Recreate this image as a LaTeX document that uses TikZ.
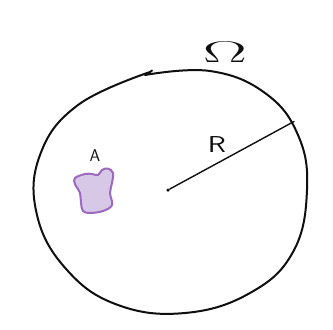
\RequirePackage{fix-cm}
\documentclass[tikz,border=0pt]{standalone}
\usepackage{graphicx}
\definecolor{blobfill}{RGB}{216,200,232}
\definecolor{blobline}{RGB}{155,105,190}
\definecolor{ink}{RGB}{15,15,15}
\tikzset{
  outline/.style={draw=ink,line width=2pt,line cap=round,line join=round},
  radius line/.style={draw=ink,line width=1.4pt,line cap=round},
  blob/.style={draw=blobline,fill=blobfill,line width=2pt,line join=round},
  lbl/.style={inner sep=0pt,text=ink}
}
\begin{document}
\begin{tikzpicture}[x=1pt,y=-1pt]
\useasboundingbox[fill=white] (0,0) rectangle (333,330);
% domain boundary
\draw[outline] plot[smooth,tension=0.7] coordinates {
 (145,75) (210,71) (265,93) (298,135) (307,190) (293,252)
 (250,293) (185,313) (118,305) (67,270) (37,215) (40,155) (78,105) (150,72)};
\draw[outline] (150,72) -- (152,70.5);
% set A
\draw[blob] plot[smooth cycle,tension=0.6] coordinates {
 (75,178) (85,174) (92,174) (98,175) (102,170) (108,168.5) (113,173)
 (112,183) (110,193) (112,205) (103,211) (90,213) (83,211)
 (81,203) (80,193) (75,184)};
% radius
\node[circle,fill=ink,inner sep=0pt,minimum size=3.5pt] (c) at (168,190) {};
\coordinate (e) at (294,121.5);
\draw[radius line] (c) -- (e);
% labels
\node[lbl,font=\sffamily\fontsize{23}{23}\selectfont] (R) at (217,145) {\scalebox{1.3}[1]{R}};
\node[lbl,font=\sffamily\fontsize{17}{17}\selectfont] (A) at (95,156) {A};
\node[lbl,font=\fontsize{30}{30}\selectfont] (O) at (225,52) {\scalebox{2.2}[1]{$\Omega$}};
\end{tikzpicture}
\end{document}
